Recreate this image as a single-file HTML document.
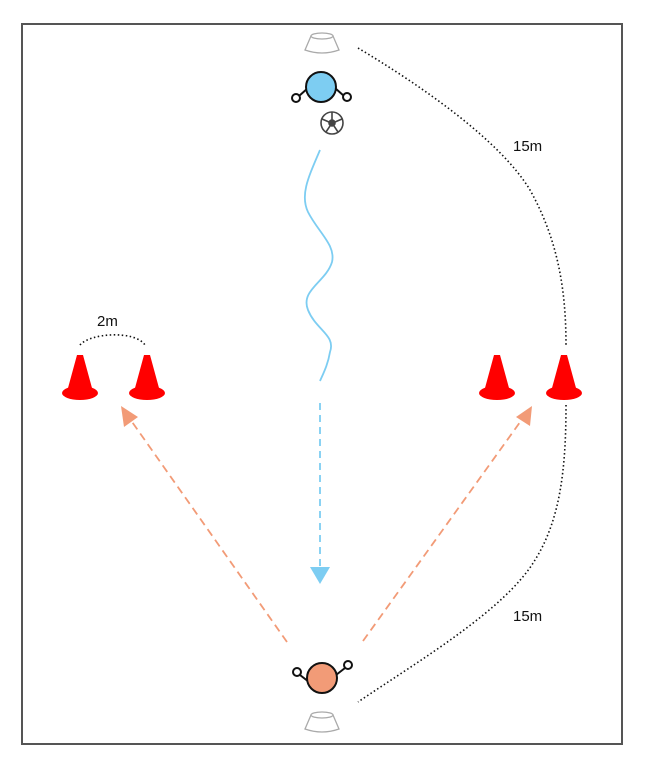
<!DOCTYPE html>
<html><head><style>body{margin:0;background:#fff}svg{display:block}</style></head><body>
<svg width="645" height="770" viewBox="0 0 645 770" xmlns="http://www.w3.org/2000/svg" font-family="Liberation Sans, sans-serif">
<rect x="22" y="24" width="600" height="720" fill="#fff" stroke="#555" stroke-width="2"/>
<defs>
<marker id="ab" markerWidth="10" markerHeight="10" refX="5" refY="5" orient="auto" markerUnits="userSpaceOnUse"><path d="M0,0 L10,5 L0,10 z" fill="#7dcdf2"/></marker>
</defs>
<!-- cones top/bottom -->
<g fill="#fff" stroke="#aaa" stroke-width="1.3">
<path d="M311,36 L333,36 L339,50 Q322,56 305,50 Z"/><ellipse cx="322" cy="36" rx="11" ry="3"/>
<path d="M311,715 L333,715 L339,729 Q322,735 305,729 Z"/><ellipse cx="322" cy="715" rx="11" ry="3"/>
</g>
<!-- top player -->
<g stroke="#111" stroke-width="2" fill="none">
<path d="M299,96 L308,88"/><path d="M344,96 L335,88"/>
<circle cx="296" cy="98" r="4" fill="#fff"/><circle cx="347" cy="97" r="4" fill="#fff"/>
<circle cx="321" cy="87" r="15" fill="#7dcdf2"/>
</g>
<g stroke="#444" stroke-width="1.6" fill="#fff">
<circle cx="332" cy="123" r="11"/>
<circle cx="332" cy="123" r="3" fill="#444"/>
<path d="M332,112 L332,120 M322,119 L329,122 M342,119 L335,122 M326,132 L330,126 M338,132 L334,126" fill="none"/>
</g>
<!-- bottom player -->
<g stroke="#111" stroke-width="2" fill="none">
<path d="M300,675 L309,682"/><path d="M345,668 L336,675"/>
<circle cx="297" cy="672" r="4" fill="#fff"/><circle cx="348" cy="665" r="4" fill="#fff"/>
<circle cx="322" cy="678" r="15" fill="#f29b77"/>
</g>
<!-- red cones -->
<g fill="#f00">
<g transform="translate(80,0)"><path d="M-3,355 L3,355 L12,388 L-12,388 Z"/><ellipse cx="0" cy="393" rx="18" ry="7"/></g>
<g transform="translate(147,0)"><path d="M-3,355 L3,355 L12,388 L-12,388 Z"/><ellipse cx="0" cy="393" rx="18" ry="7"/></g>
<g transform="translate(497,0)"><path d="M-3,355 L3,355 L12,388 L-12,388 Z"/><ellipse cx="0" cy="393" rx="18" ry="7"/></g>
<g transform="translate(564,0)"><path d="M-3,355 L3,355 L12,388 L-12,388 Z"/><ellipse cx="0" cy="393" rx="18" ry="7"/></g>
</g>
<!-- blue wavy -->
<path d="M320,150 C308,178 300,195 308,212 C318,232 336,245 332,262 C326,282 300,290 308,310 C316,330 336,335 330,352 C328,364 324,372 320,381" fill="none" stroke="#7dcdf2" stroke-width="1.8"/>
<path d="M320,403 L320,572" stroke="#7dcdf2" stroke-width="1.8" stroke-dasharray="7,5"/>
<path d="M310,567 L330,567 L320,584 Z" fill="#7dcdf2"/>
<!-- orange dashed -->
<g stroke="#f29b77" stroke-width="1.8" stroke-dasharray="8,5">
<path d="M287,642 L130,419"/><path d="M363,641 L523,418"/>
</g>
<g fill="#f29b77">
<path d="M121,406 L138,417 L124,427 Z"/>
<path d="M532,406 L530,426 L516,417 Z"/>
</g>
<!-- dotted -->
<g fill="none" stroke="#111" stroke-width="1.6" stroke-dasharray="1.5,2.5">
<path d="M358,48 C420,85 500,140 530,190 C558,240 566,290 566,345"/>
<path d="M566,405 C566,470 560,520 535,560 C505,610 420,660 358,702"/>
<path d="M80,345 C90,333 135,330 145,345"/>
</g>
<g font-size="15" fill="#111">
<text x="513" y="151">15m</text>
<text x="513" y="621">15m</text>
<text x="97" y="326">2m</text>
</g>
</svg>
</body></html>
